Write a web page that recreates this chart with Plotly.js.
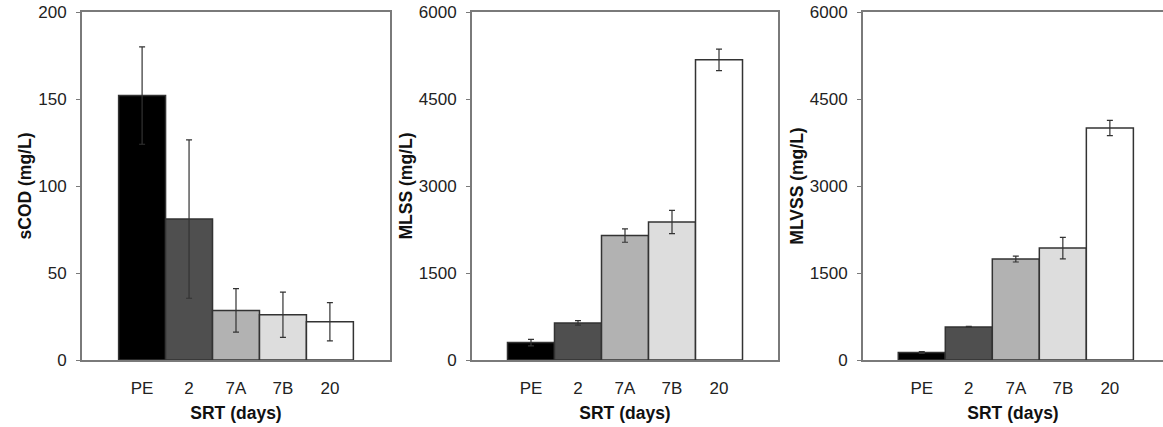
<!DOCTYPE html>
<html><head><meta charset="utf-8">
<script src="https://cdn.plot.ly/plotly-3.0.1.min.js"></script>
<style>html,body{margin:0;padding:0;background:#fff}#chart{width:1163px;height:427px}</style>
</head><body><div id="chart"></div>
<script>
const categories = ['PE', '2', '7A', '7B', '20'];
const barColors = ['#000000', '#4f4f4f', '#b2b2b2', '#dddddd', '#ffffff'];

const scodValues = [152, 81, 28.5, 26, 22];
const scodErrors = [28, 45.5, 12.5, 13, 11];

const mlssValues = [300, 640, 2145, 2380, 5175];
const mlssErrors = [55, 40, 115, 200, 185];

const mlvssValues = [130, 570, 1740, 1930, 4000];
const mlvssErrors = [15, 10, 50, 185, 130];

const yTitles = ['sCOD (mg/L)', 'MLSS (mg/L)', 'MLVSS (mg/L)'];
const xTitle = 'SRT (days)';
const yTicks1 = [0, 50, 100, 150, 200];
const yTicks23 = [0, 1500, 3000, 4500, 6000];

function barTrace(vals, errs, xa, ya) {
  return {
    type: 'bar', x: categories, y: vals, xaxis: xa, yaxis: ya,
    marker: {color: barColors, line: {color: '#333333', width: 1.5}},
    error_y: {type: 'data', array: errs, visible: true, color: '#333333', thickness: 1.2, width: 3},
    showlegend: false, hoverinfo: 'none'
  };
}

const data = [
  barTrace(scodValues, scodErrors, 'x', 'y'),
  barTrace(mlssValues, mlssErrors, 'x2', 'y2'),
  barTrace(mlvssValues, mlvssErrors, 'x3', 'y3')
];

const W = 1163, H = 427;
const yDom = [67 / H, 415 / H];
const tickFont = {family: 'Liberation Sans, Arial, sans-serif', size: 17, color: '#222'};
const titleFont = {family: 'Liberation Sans, Arial, sans-serif', size: 17.5, color: '#111', weight: 'bold'};

function xAxis(dom, range, anchor) {
  return {
    domain: dom, range: range, anchor: anchor, type: 'category',
    showline: true, linecolor: '#7a7a7a', linewidth: 2, mirror: true,
    ticks: '', ticklabelstandoff: 12, showgrid: false, zeroline: false,
    tickfont: tickFont, fixedrange: true,
    title: {text: '<b>' + xTitle + '</b>', font: titleFont, standoff: 9}
  };
}
function yAxis(range, ticks, anchor, title, mirror) {
  return {
    domain: yDom, range: range, anchor: anchor, tickvals: ticks,
    showline: true, linecolor: '#7a7a7a', linewidth: 2, mirror: mirror,
    ticks: 'outside', ticklen: 4, tickcolor: '#7a7a7a', ticklabelstandoff: 6,
    showgrid: false, zeroline: false, tickfont: tickFont,
    title: {text: '<b>' + title + '</b>', font: titleFont, standoff: 2}
  };
}

const layout = {
  width: W, height: H,
  margin: {l: 0, r: 0, t: 0, b: 0},
  paper_bgcolor: '#fff', plot_bgcolor: '#fff',
  bargap: 0,
  xaxis: xAxis([82 / W, 390 / W], [-1.28, 5.28], 'y'),
  yaxis: yAxis([0, 200], yTicks1, 'x', yTitles[0], true),
  xaxis2: xAxis([472 / W, 778 / W], [-1.255, 5.255], 'y2'),
  yaxis2: yAxis([0, 6000], yTicks23, 'x2', yTitles[1], true),
  xaxis3: xAxis([863 / W, 1], [-1.25, 5.13], 'y3'),
  yaxis3: yAxis([0, 6000], yTicks23, 'x3', yTitles[2], false)
};

Plotly.newPlot('chart', data, layout, {displayModeBar: false, staticPlot: true});
</script></body></html>
